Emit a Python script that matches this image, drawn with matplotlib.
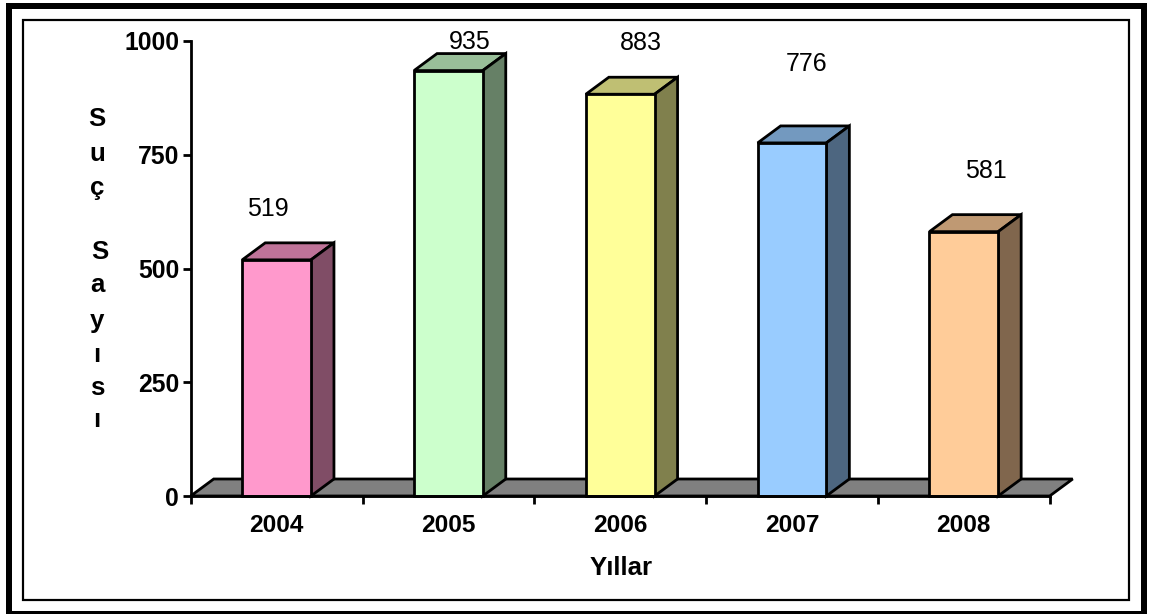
import matplotlib
matplotlib.use("Agg")
import matplotlib.pyplot as plt
from matplotlib.patches import Polygon, Rectangle

years = ["2004", "2005", "2006", "2007", "2008"]
counts = [519, 935, 883, 776, 581]
front_colors = ["#FF99CC", "#CCFFCC", "#FFFF99", "#99CCFF", "#FFCC99"]
top_colors = ["#BF7399", "#99BF99", "#BFBF73", "#7399BF", "#BF9973"]
side_colors = ["#804D66", "#668066", "#80804D", "#4D6680", "#80664D"]
y_ticks = [0, 250, 500, 750, 1000]
# label offsets from the bar's top centre, in pixels
label_dx = [-9, 21, 21, 15, 22]
label_dy = [51, 29, 51, 79, 61]
ylabel_letters = ["S", "u", "ç", "S", "a", "y", "ı", "s", "ı"]
ylabel_px = [(97, 119), (97, 154), (97, 188), (100, 252), (97, 285), (97, 321), (97, 355), (97, 388), (97, 420)]

W, H = 1149, 614
plt.rcParams["font.family"] = ["Liberation Sans", "DejaVu Sans"]
fig = plt.figure(figsize=(W / 100, H / 100), dpi=100, facecolor="white")


def frame(x0, y0, x1, y1, lw_px):
    fig.add_artist(Rectangle((x0 / W, 1 - y1 / H), (x1 - x0) / W, (y1 - y0) / H,
                             transform=fig.transFigure, fill=False, ec="black",
                             lw=lw_px * 0.72, joinstyle="miter"))


frame(9, 6, 1144, 614, 6)
frame(23, 20, 1129, 600, 2.2)

L, R, T, B = 190.7, 1049.7, 41, 496
ax = fig.add_axes([L / W, 1 - B / H, (R - L) / W, (B - T) / H])
ax.set_xlim(0, 5)
ax.set_ylim(0, 1000)
ax.patch.set_visible(False)
for s in ("top", "right"):
    ax.spines[s].set_visible(False)
for s in ("left", "bottom"):
    ax.spines[s].set_linewidth(2.0)
    ax.spines[s].set_zorder(6)

ddx = 23 * 5 / (R - L)
ddy = 17 * 1000 / (B - T)
lw = 2.0
width = 0.4

ax.add_patch(Polygon([(0, 0), (ddx, ddy), (5 + ddx, ddy), (5, 0)], closed=True,
                     fc="#808080", ec="black", lw=lw, clip_on=False, zorder=1, joinstyle="miter"))

for i, (v, fc, tc, sc) in enumerate(zip(counts, front_colors, top_colors, side_colors)):
    x0, x1 = i + 0.5 - width / 2, i + 0.5 + width / 2
    ax.bar(i + 0.5, v, width=width, color=fc, edgecolor="black", linewidth=lw, zorder=4, clip_on=False)
    ax.add_patch(Polygon([(x0, v), (x0 + ddx, v + ddy), (x1 + ddx, v + ddy), (x1, v)], closed=True,
                         fc=tc, ec="black", lw=lw, clip_on=False, zorder=3, joinstyle="miter"))
    ax.add_patch(Polygon([(x1, 0), (x1 + ddx, ddy), (x1 + ddx, v + ddy), (x1, v)], closed=True,
                         fc=sc, ec="black", lw=lw, clip_on=False, zorder=3, joinstyle="miter"))
    ax.annotate(str(v), xy=(i + 0.5, v), xytext=(label_dx[i] * 0.72, label_dy[i] * 0.72),
                textcoords="offset points", ha="center", va="center", fontsize=18,
                color="black", annotation_clip=False, zorder=7)

ax.set_yticks(y_ticks)
ax.set_yticklabels([str(t) for t in y_ticks], fontsize=17.8, fontweight="bold")
ax.set_xticks(range(6))
ax.set_xticklabels([""] * 6)
ax.tick_params(axis="both", length=5.8, width=2.0, color="black")
ax.tick_params(axis="y", pad=2.5)

for i, y in enumerate(years):
    ax.annotate(y, xy=(i + 0.5, 0), xytext=(0, -30 * 0.72), textcoords="offset points",
                ha="center", va="center", fontsize=17.6, fontweight="bold", annotation_clip=False)

fig.text(621 / W, 1 - 568 / H, "Yıllar", ha="center", va="center", fontsize=18.6, fontweight="bold")
for ch, (px, py) in zip(ylabel_letters, ylabel_px):
    fig.text(px / W, 1 - py / H, ch, ha="center", va="center", fontsize=18.6, fontweight="bold")

fig.savefig("out.png", dpi=100, facecolor="white")
